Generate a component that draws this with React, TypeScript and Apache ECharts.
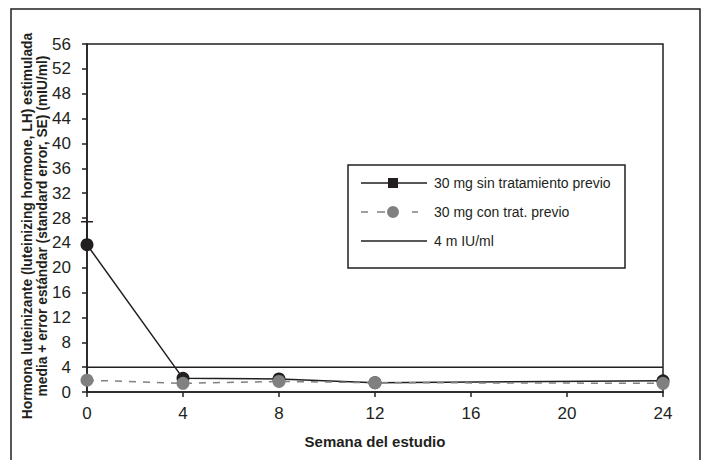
import React, { useEffect, useRef } from "react";
import * as echarts from "echarts";

const weeks = [0, 4, 8, 12, 24];
const sinTratamiento = [23.7, 2.2, 2.1, 1.5, 1.8];
const conTratamiento = [1.9, 1.4, 1.7, 1.5, 1.4];
const errorWeek = [0];
const errorLow = [23.7];
const errorHigh = [27.4];
const thresholdValue = 4;
const thresholdRange = [0, 24];
const seriesNames = ["30 mg sin tratamiento previo", "30 mg con trat. previo", "4 m IU/ml"];
const xAxisName = "Semana del estudio";
const yAxisNameLines = [
  "Hormona luteinizante (luteinizing hormone, LH) estimulada",
  "media + error estándar (standard error, SE) (mIU/ml)",
];

const INK = "#231f20";
const GREY = "#808080";
const FONT = "'Liberation Sans', Arial, Helvetica, sans-serif";

// legend icon shapes (66 x 14 box, anchored so they are not rescaled)
const ANCHOR = "M0 0M66 14";
const ICON_SOLID_SQUARE = "path://" + ANCHOR + "M0 6.25H66V7.75H0Z M27 2H37V12H27Z";
const ICON_DASH_CIRCLE =
  "path://" + ANCHOR +
  "M0 6.25H7V7.75H0Z M16 6.25H24V7.75H16Z M26 7A6 6 0 1 0 38 7A6 6 0 1 0 26 7Z M51 6.25H57V7.75H51Z";
const ICON_SOLID = "path://" + ANCHOR + "M0 6.25H66V7.75H0Z";

export default function App() {
  const ref = useRef<HTMLDivElement>(null);
  useEffect(() => {
    if (!ref.current) return;
    const chart = echarts.init(ref.current, undefined, { renderer: "svg" });
    const option: any = {
      animation: false,
      backgroundColor: "#ffffff",
      textStyle: { fontFamily: FONT },
      grid: {
        left: 87,
        top: 44,
        width: 576,
        height: 348,
        show: true,
        borderColor: INK,
        borderWidth: 1.5,
        backgroundColor: "transparent",
      },
      xAxis: {
        type: "value",
        min: 0,
        max: 24,
        interval: 4,
        name: xAxisName,
        nameLocation: "middle",
        nameGap: 42,
        nameTextStyle: { fontFamily: FONT, fontSize: 15, fontWeight: "bold", color: INK },
        axisLine: { show: true, onZero: false, lineStyle: { color: INK, width: 1.5 } },
        axisTick: { show: true, inside: false, length: 5, lineStyle: { color: INK, width: 1.5 } },
        axisLabel: { margin: 13, fontFamily: FONT, fontSize: 17, color: INK },
        splitLine: { show: false },
      },
      yAxis: {
        type: "value",
        min: 0,
        max: 56,
        interval: 4,
        axisLine: { show: true, onZero: false, lineStyle: { color: INK, width: 1.5 } },
        axisTick: { show: true, inside: false, length: 5, lineStyle: { color: INK, width: 1.5 } },
        axisLabel: { margin: 16, fontFamily: FONT, fontSize: 17, color: INK },
        splitLine: { show: false },
      },
      legend: {
        orient: "vertical",
        left: 361,
        top: 176,
        itemWidth: 66,
        itemHeight: 14,
        itemGap: 15,
        padding: 0,
        symbolKeepAspect: true,
        textStyle: { fontFamily: FONT, fontSize: 14, color: INK, padding: [0, 0, 0, 2] },
        data: [
          { name: seriesNames[0], icon: ICON_SOLID_SQUARE, itemStyle: { color: INK, borderWidth: 0 } },
          { name: seriesNames[1], icon: ICON_DASH_CIRCLE, itemStyle: { color: GREY, borderWidth: 0 } },
          { name: seriesNames[2], icon: ICON_SOLID, itemStyle: { color: INK, borderWidth: 0 } },
        ],
      },
      graphic: [
        {
          type: "rect",
          shape: { x: 11, y: 9, width: 689, height: 470 },
          style: { fill: "none", stroke: INK, lineWidth: 1.5 },
          z: 100,
          silent: true,
        },
        {
          type: "rect",
          shape: { x: 348, y: 165, width: 277, height: 103 },
          style: { fill: "#ffffff", stroke: INK, lineWidth: 1.5 },
          z: 0,
          silent: true,
        },
        {
          type: "text",
          x: 35,
          y: 226,
          rotation: Math.PI / 2,
          style: {
            text: yAxisNameLines.join("\n"),
            fontFamily: FONT,
            fontSize: 13.8,
            fontWeight: "bold",
            lineHeight: 15.5,
            fill: INK,
            align: "center",
            verticalAlign: "middle",
          },
        },
      ],
      series: [
        {
          name: seriesNames[2],
          type: "line",
          data: thresholdRange.map((x) => [x, thresholdValue]),
          symbol: "none",
          lineStyle: { color: INK, width: 1.5 },
          itemStyle: { color: INK },
          z: 2,
        },
        {
          name: seriesNames[0],
          type: "line",
          data: weeks.map((w, i) => [w, sinTratamiento[i]]),
          symbol: "circle",
          symbolSize: 13,
          showAllSymbol: true,
          clip: false,
          lineStyle: { color: INK, width: 1.5 },
          itemStyle: { color: INK },
          z: 3,
        },
        {
          name: "error",
          type: "custom",
          clip: false,
          data: errorWeek.map((w, i) => [w, errorLow[i], errorHigh[i]]),
          renderItem: (params: any, api: any) => {
            const lo = api.coord([api.value(0), api.value(1)]);
            const hi = api.coord([api.value(0), api.value(2)]);
            return {
              type: "group",
              children: [
                {
                  type: "line",
                  shape: { x1: lo[0], y1: lo[1], x2: hi[0], y2: hi[1] },
                  style: { stroke: INK, lineWidth: 1.5 },
                },
                {
                  type: "line",
                  shape: { x1: hi[0] - 6, y1: hi[1], x2: hi[0] + 6, y2: hi[1] },
                  style: { stroke: INK, lineWidth: 1.5 },
                },
              ],
            };
          },
          z: 3,
        },
        {
          name: seriesNames[1],
          type: "line",
          data: weeks.map((w, i) => [w, conTratamiento[i]]),
          symbol: "circle",
          symbolSize: 13,
          showAllSymbol: true,
          clip: false,
          lineStyle: { color: GREY, width: 1.5, type: [7, 7] },
          itemStyle: { color: GREY },
          z: 4,
        },
      ],
    };
    chart.setOption(option);
    return () => chart.dispose();
  }, []);
  return (
    <div
      ref={ref}
      style={{ position: "absolute", left: 0, top: 0, width: 705, height: 460 }}
    />
  );
}
